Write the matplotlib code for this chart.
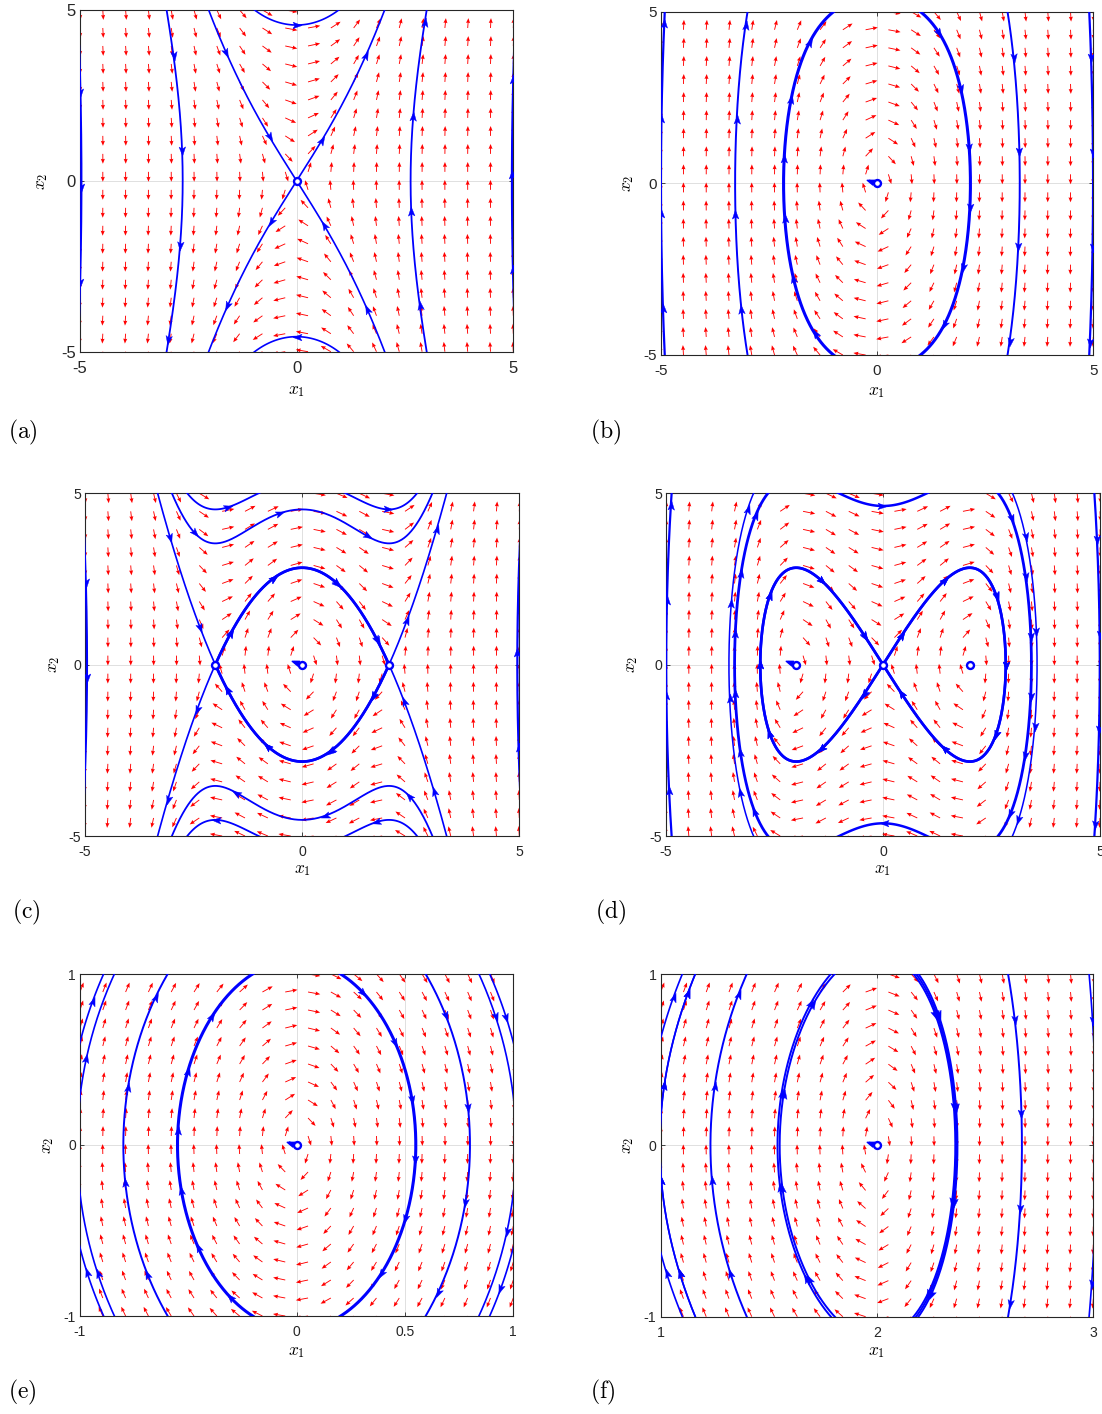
import math
import numpy as np
import matplotlib
matplotlib.use('Agg')
import matplotlib.pyplot as plt
from matplotlib.markers import MarkerStyle
from matplotlib.path import Path

# ---------------- data ----------------
panel_tags = ['(a)', '(b)', '(c)', '(d)', '(e)', '(f)']
# system: x1' = x2 ,  x2' = lin*x1 + cub*x1^3
lin_coef = [4, -4, -4, 4, -4, 4]
cub_coef = [1, -1, 1, -1, 1, -1]
x_limits = [(-5, 5), (-5, 5), (-5, 5), (-5, 5), (-1, 1), (1, 3)]
y_limits = [(-5, 5), (-5, 5), (-5, 5), (-5, 5), (-1, 1), (-1, 1)]
x_tick_values = [[-5, 0, 5], [-5, 0, 5], [-5, 0, 5], [-5, 0, 5], [-1, 0, 0.5, 1], [1, 2, 3]]
x_tick_labels = [['-5', '0', '5'], ['-5', '0', '5'], ['-5', '0', '5'], ['-5', '0', '5'],
                 ['-1', '0', '0.5', '1'], ['1', '2', '3']]
y_tick_values = [[-5, 0, 5], [-5, 0, 5], [-5, 0, 5], [-5, 0, 5], [-1, 0, 1], [-1, 0, 1]]
y_tick_labels = [['-5', '0', '5'], ['-5', '0', '5'], ['-5', '0', '5'], ['-5', '0', '5'],
                 ['-1', '0', '1'], ['-1', '0', '1']]
quiver_n = 20

equilibria_x1 = [[0], [0], [-2, 0, 2], [-2, 0, 2], [0], [2]]
equilibria_tail = [[0], [1], [0, 1, 0], [1, 0, 0], [1], [1]]
saddles_x1 = [[0], [], [-2, 2], [0], [], []]

# trajectory seeds (initial conditions)
seed_x1 = [
    [0, 0, -2.63, 2.63, -4.969, 4.969],
    [-2.16, 2.16, -3.28, 3.30, -4.995, 4.995],
    [0, -2, 2, 0, -2, 2, -4.955, 4.955],
    [3.42, -3.42, 0, 0, 3.55, -3.55, -4.995, 4.995],
    [0.55, -0.55, 0.80, -0.80, -0.95, -0.95, -0.95, -0.95, 0.95, 0.95, 0.95, 0.95],
    [1.540, 1.550, 2.362, 2.367, 2.372, 1.23, 2.67, 1.05, 1.05, 1.05, 1.05, 2.99, 2.99],
]
seed_x2 = [
    [4.56, -4.56, 0, 0, 0, 0],
    [0, 0, 0, 0, 0, 0],
    [4.53, 4.53, 4.53, -4.53, -4.53, -4.53, 0, 0],
    [0, 0, 4.63, -4.63, 0, 0, 0, 0],
    [0, 0, 0, 0, 0.811, -0.811, 0.615, -0.615, 0.811, -0.811, 0.615, -0.615],
    [0, 0, 0, 0, 0, 0, 0, 0.833, -0.833, 0.571, -0.571, 0.85, -0.85],
]
seed_lw = [
    [1.2, 1.2, 1.3, 1.3, 1.6, 1.6],
    [2.2, 2.2, 1.4, 1.4, 1.6, 1.6],
    [1.3, 1.3, 1.3, 1.3, 1.3, 1.3, 1.6, 1.6],
    [2.0, 2.0, 1.8, 1.8, 1.1, 1.1, 1.6, 1.6],
    [2.2, 2.2, 1.4, 1.4, 1.2, 1.2, 1.2, 1.2, 1.2, 1.2, 1.2, 1.2],
    [1.4, 1.4, 1.4, 1.4, 1.4, 1.4, 1.4, 1.2, 1.2, 1.2, 1.2, 1.2, 1.2],
]

# ---------------- layout (pixels) ----------------
W, H = 1102, 1414
axes_px = [(80, 513.3, 10, 351.7), (660.7, 1093.3, 11.7, 355), (85, 519.3, 493.3, 836),
           (666, 1100, 493.3, 836), (80, 513.3, 974, 1316), (660.7, 1093.3, 974, 1316.7)]
xlabel_y_px = [391, 393, 871, 871, 1352, 1352]
ylabel_x_px = [42, 628, 55, 633, 48, 628]
tag_xy_px = [(8, 432), (590, 432), (12, 912), (595, 912), (8, 1392), (590, 1392)]
tick_fs = [12, 11, 10.2, 10.2, 10, 10.2]

BLUE = '#0000FF'
RED = '#FF0000'

plt.rcParams['mathtext.fontset'] = 'cm'
plt.rcParams['font.family'] = ['Liberation Sans', 'DejaVu Sans']

arrow_path = Path([(0.5, 0.0), (-0.5, 0.36), (-0.28, 0.0), (-0.5, -0.36), (0.5, 0.0)],
                  [Path.MOVETO, Path.LINETO, Path.LINETO, Path.LINETO, Path.CLOSEPOLY])


def field(x, y, a1, a3):
    return y, a1 * x + a3 * x ** 3


def trace(x0, y0, sgn, a1, a3, lims, scale, eq_pts, step=1.0, max_len=3000.0):
    (xmin, xmax), (ymin, ymax) = lims
    sx, sy = scale
    tolx, toly = 1.0 / sx, 1.0 / sy

    def d(x, y):
        u, v = field(x, y, a1, a3)
        U, V = u * sx, v * sy
        n = math.hypot(U, V)
        if n < 1e-12:
            return 0.0, 0.0
        return sgn * U / n / sx, sgn * V / n / sy

    xs, ys = [x0], [y0]
    x, y = x0, y0
    L = 0.0
    hit_eq = False
    while L < max_len:
        k1 = d(x, y)
        k2 = d(x + 0.5 * step * k1[0], y + 0.5 * step * k1[1])
        k3 = d(x + 0.5 * step * k2[0], y + 0.5 * step * k2[1])
        k4 = d(x + step * k3[0], y + step * k3[1])
        x += step * (k1[0] + 2 * k2[0] + 2 * k3[0] + k4[0]) / 6.0
        y += step * (k1[1] + 2 * k2[1] + 2 * k3[1] + k4[1]) / 6.0
        xs.append(x)
        ys.append(y)
        L += step
        if x < xmin - tolx or x > xmax + tolx or y < ymin - toly or y > ymax + toly:
            break
        if L > 25:
            for ex, ey in eq_pts:
                if math.hypot((x - ex) * sx, (y - ey) * sy) < 2.5:
                    xs.append(ex)
                    ys.append(ey)
                    hit_eq = True
                    break
            if hit_eq:
                break
    return np.array(xs), np.array(ys), hit_eq


def draw_traj(ax, xs, ys, lw, lims, scale, spacing):
    (xmin, xmax), (ymin, ymax) = lims
    sx, sy = scale
    ax.plot(xs, ys, color=BLUE, lw=lw, zorder=4, solid_capstyle='butt')
    px = (xs - xmin) * sx
    py = (ys - ymin) * sy
    seg = np.hypot(np.diff(px), np.diff(py))
    s = np.concatenate([[0.0], np.cumsum(seg)])
    total = s[-1]
    for sp in np.arange(spacing * 0.5, total - 4, spacing):
        i = int(np.searchsorted(s, sp))
        i = min(max(i, 2), len(s) - 1)
        x, y = xs[i], ys[i]
        if not (xmin <= x <= xmax and ymin <= y <= ymax):
            continue
        ang = math.degrees(math.atan2(py[i] - py[i - 2], px[i] - px[i - 2]))
        ax.plot([x], [y], linestyle='none', marker=MarkerStyle(arrow_path).rotated(deg=ang),
                ms=6.5, color=BLUE, mec=BLUE, mew=0.3, zorder=5)


fig = plt.figure(figsize=(W / 100, H / 100), dpi=100)

for k in range(6):
    l, r, t, b = axes_px[k]
    ax = fig.add_axes([l / W, 1 - b / H, (r - l) / W, (b - t) / H])
    lims = (x_limits[k], y_limits[k])
    (xmin, xmax), (ymin, ymax) = lims
    sx = (r - l) / (xmax - xmin)
    sy = (b - t) / (ymax - ymin)
    scale = (sx, sy)
    a1, a3 = lin_coef[k], cub_coef[k]
    ax.set_xlim(xmin, xmax)
    ax.set_ylim(ymin, ymax)

    # direction field
    gx = np.linspace(xmin, xmax, quiver_n)
    gy = np.linspace(ymin, ymax, quiver_n)
    X, Y = np.meshgrid(gx, gy)
    U, V = field(X, Y, a1, a3)
    N = np.hypot(U, V)
    N[N == 0] = 1.0
    Lq = 0.55 * (xmax - xmin) / (quiver_n - 1)
    ax.quiver(X, Y, U / N * Lq, V / N * Lq, angles='xy', scale_units='xy', scale=1,
              color=RED, units='dots', width=0.9, headwidth=4.5, headlength=5.5,
              headaxislength=5, zorder=2)

    eq_pts = [(ex, 0.0) for ex in equilibria_x1[k]]

    # separatrices from saddles
    for xs0 in saddles_x1[k]:
        lam = math.sqrt(a1 + 3 * a3 * xs0 ** 2)
        for vy, sgn in ((lam, 1), (-lam, -1)):
            nd = math.hypot(sx, vy * sy)
            for side in (1, -1):
                x0 = xs0 + side * 1.5 / nd
                y0 = side * 1.5 * vy / nd
                tx, ty, hit = trace(x0, y0, sgn, a1, a3, lims, scale, eq_pts)
                if sgn < 0:
                    tx, ty = tx[::-1], ty[::-1]
                tx = np.concatenate([[xs0], tx]) if sgn > 0 else np.concatenate([tx, [xs0]])
                ty = np.concatenate([[0.0], ty]) if sgn > 0 else np.concatenate([ty, [0.0]])
                lw = 1.9 if hit else 1.2
                draw_traj(ax, tx, ty, lw, lims, scale, 70 if hit else 95)

    # other trajectories
    for x0, y0, lw in zip(seed_x1[k], seed_x2[k], seed_lw[k]):
        fx, fy, _ = trace(x0, y0, 1, a1, a3, lims, scale, eq_pts)
        bx, by, _ = trace(x0, y0, -1, a1, a3, lims, scale, eq_pts)
        tx = np.concatenate([bx[::-1], fx[1:]])
        ty = np.concatenate([by[::-1], fy[1:]])
        draw_traj(ax, tx, ty, lw, lims, scale, 60 if lw >= 2 else 95)

    # equilibria
    for ex, tail in zip(equilibria_x1[k], equilibria_tail[k]):
        if tail:
            tx, ty = ex - 7.0 / sx, 2.5 / sy
            ax.plot([ex, tx], [0, ty], color=BLUE, lw=1.5, zorder=6)
            ax.plot([tx], [ty], linestyle='none', marker=MarkerStyle(arrow_path).rotated(deg=160),
                    ms=5, color=BLUE, zorder=6)
        ax.plot([ex], [0], linestyle='none', marker='o', ms=5, mfc='white', mec=BLUE,
                mew=1.7, zorder=7)

    # axes styling
    ax.set_xticks(x_tick_values[k])
    ax.set_xticklabels(x_tick_labels[k])
    ax.set_yticks(y_tick_values[k])
    ax.set_yticklabels(y_tick_labels[k])
    ax.tick_params(direction='in', length=3, width=0.6, color='0.15', labelcolor='0.15',
                   labelsize=tick_fs[k], top=True, right=True)
    ax.tick_params(axis='x', pad=6.5)
    ax.tick_params(axis='y', pad=3)
    ax.grid(True, color='0.86', lw=0.6)
    ax.set_axisbelow(True)
    for sp in ax.spines.values():
        sp.set_color('0.15')
        sp.set_linewidth(0.8)
    ax.set_xlabel(r'$x_1$', fontsize=12.5)
    ax.xaxis.label.set_va('center')
    ax.xaxis.set_label_coords(0.5, (b - xlabel_y_px[k]) / (b - t))
    ax.set_ylabel(r'$x_2$', fontsize=12.5)
    ax.yaxis.label.set_va('center')
    ax.yaxis.set_label_coords((ylabel_x_px[k] - l) / (r - l), 0.5)

    tx_, ty_ = tag_xy_px[k]
    fig.text(tx_ / W, 1 - ty_ / H, r'$\mathrm{' + panel_tags[k] + '}$', fontsize=17,
             ha='left', va='center')

fig.savefig('out.png', dpi=100)
